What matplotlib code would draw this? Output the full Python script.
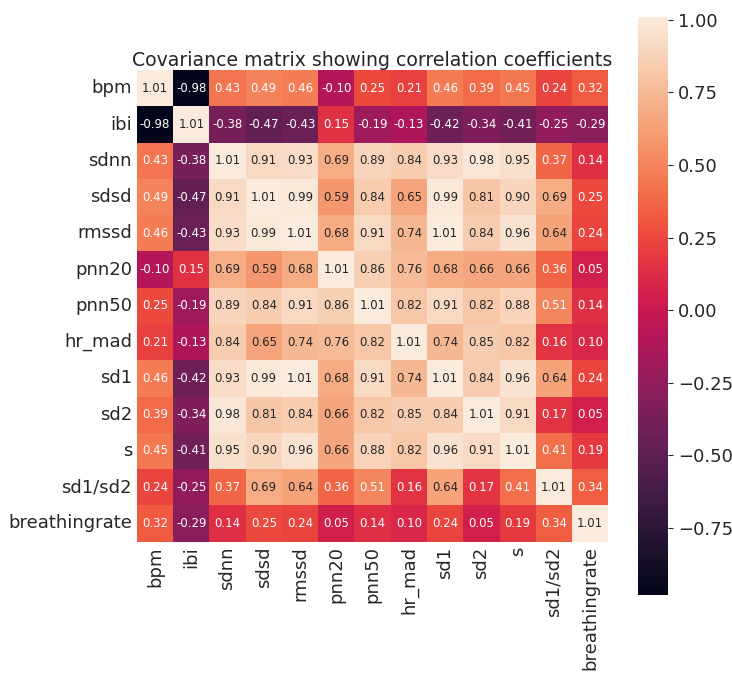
import numpy as np
import pandas as pd
import seaborn as sns
import matplotlib
matplotlib.use("Agg")
import matplotlib.pyplot as plt

labels = ['bpm', 'ibi', 'sdnn', 'sdsd', 'rmssd', 'pnn20', 'pnn50', 'hr_mad',
          'sd1', 'sd2', 's', 'sd1/sd2', 'breathingrate']

bpm = [1.01, -0.98, 0.43, 0.49, 0.46, -0.10, 0.25, 0.21, 0.46, 0.39, 0.45, 0.24, 0.32]
ibi = [-0.98, 1.01, -0.38, -0.47, -0.43, 0.15, -0.19, -0.13, -0.42, -0.34, -0.41, -0.25, -0.29]
sdnn = [0.43, -0.38, 1.01, 0.91, 0.93, 0.69, 0.89, 0.84, 0.93, 0.98, 0.95, 0.37, 0.14]
sdsd = [0.49, -0.47, 0.91, 1.01, 0.99, 0.59, 0.84, 0.65, 0.99, 0.81, 0.90, 0.69, 0.25]
rmssd = [0.46, -0.43, 0.93, 0.99, 1.01, 0.68, 0.91, 0.74, 1.01, 0.84, 0.96, 0.64, 0.24]
pnn20 = [-0.10, 0.15, 0.69, 0.59, 0.68, 1.01, 0.86, 0.76, 0.68, 0.66, 0.66, 0.36, 0.05]
pnn50 = [0.25, -0.19, 0.89, 0.84, 0.91, 0.86, 1.01, 0.82, 0.91, 0.82, 0.88, 0.51, 0.14]
hr_mad = [0.21, -0.13, 0.84, 0.65, 0.74, 0.76, 0.82, 1.01, 0.74, 0.85, 0.82, 0.16, 0.10]
sd1 = [0.46, -0.42, 0.93, 0.99, 1.01, 0.68, 0.91, 0.74, 1.01, 0.84, 0.96, 0.64, 0.24]
sd2 = [0.39, -0.34, 0.98, 0.81, 0.84, 0.66, 0.82, 0.85, 0.84, 1.01, 0.91, 0.17, 0.05]
s = [0.45, -0.41, 0.95, 0.90, 0.96, 0.66, 0.88, 0.82, 0.96, 0.91, 1.01, 0.41, 0.19]
sd1_sd2 = [0.24, -0.25, 0.37, 0.69, 0.64, 0.36, 0.51, 0.16, 0.64, 0.17, 0.41, 1.01, 0.34]
breathingrate = [0.32, -0.29, 0.14, 0.25, 0.24, 0.05, 0.14, 0.10, 0.24, 0.05, 0.19, 0.34, 1.01]

rows = [bpm, ibi, sdnn, sdsd, rmssd, pnn20, pnn50, hr_mad, sd1, sd2, s, sd1_sd2, breathingrate]
corr = pd.DataFrame(np.array(rows), index=labels, columns=labels)

plt.rcParams['text.color'] = '#262626'
plt.rcParams['xtick.color'] = '#262626'
plt.rcParams['ytick.color'] = '#262626'

fig = plt.figure(figsize=(7.32, 6.73), dpi=100)
ax = fig.add_axes([0.187, 0.116, 0.644, 0.859])
cax = fig.add_axes([638 / 732, 0.116, 30 / 732, 0.859])

sns.heatmap(corr, ax=ax, cbar_ax=cax, square=True, annot=True, fmt='.2f',
            annot_kws={'size': 8.5})

ax.set_title('Covariance matrix showing correlation coefficients', fontsize=13.6, pad=3)
ax.tick_params(length=0, labelsize=13)
ax.set_xticklabels(labels, rotation=90)
ax.set_yticklabels(labels, rotation=0)
cax.tick_params(labelsize=13)

fig.savefig('out.png', dpi=100)
